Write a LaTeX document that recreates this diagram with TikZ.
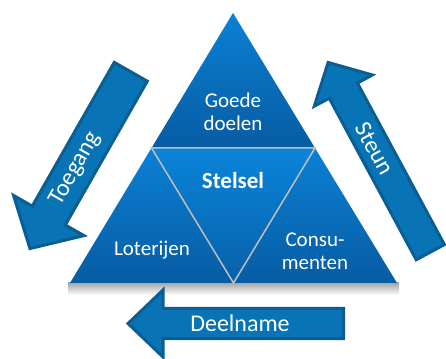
\documentclass[tikz,border=0pt]{standalone}
\usepackage{fontspec}
\setmainfont{Carlito}
\usetikzlibrary{calc}

\begin{document}
\begin{tikzpicture}[x=1pt,y=1pt,line join=miter]
  % Styles
  \tikzset{
    deel/.style={draw=lijngrijs, line width=1.5pt},
    pijl/.style={fill=pijlblauw, draw=pijlrand, line width=3pt},
    tekst/.style={text=white, align=center, font=\fontsize{21}{23}\selectfont},
    pijltekst/.style={text=white, font=\fontsize{24}{26}\selectfont}
  }

  % Colors
  \definecolor{pijlblauw}{RGB}{8,115,181}
  \definecolor{pijlrand}{RGB}{11,94,146}
  \definecolor{lijngrijs}{RGB}{192,192,192}
  \definecolor{blauwtop}{RGB}{11,128,212}
  \definecolor{blauwmidden}{RGB}{10,132,218}
  \definecolor{blauwdonker}{RGB}{7,92,163}

  \useasboundingbox (0,0) rectangle (446,358);

  % Corners of the triangle
  \coordinate (top) at (233,345);
  \coordinate (links) at (70,75);
  \coordinate (rechts) at (397,75);
  \coordinate (ml) at ($(top)!0.5!(links)$);
  \coordinate (mr) at ($(top)!0.5!(rechts)$);
  \coordinate (mb) at ($(links)!0.5!(rechts)$);

  % Shadow under the base
  \shade[top color=black!35, bottom color=white] (68,75) rectangle (399,63);

  % Four parts
  \shade[top color=blauwtop, bottom color=blauwdonker] (top) -- (ml) -- (mr) -- cycle;
  \shade[top color=blauwtop, bottom color=blauwdonker] (ml) -- (links) -- (mb) -- cycle;
  \shade[top color=blauwtop, bottom color=blauwdonker] (mr) -- (mb) -- (rechts) -- cycle;
  \shade[top color=blauwmidden, bottom color=blauwdonker!90!blauwmidden] (ml) -- (mr) -- (mb) -- cycle;
  \draw[deel] (ml) -- (mr) -- (mb) -- cycle;

  % Texts in the triangle
  \node[tekst] (goede) at (233,246) {Goede\\doelen};
  \node[tekst, font=\fontsize{23}{25}\selectfont\bfseries] (stelsel) at (233,177) {Stelsel};
  \node[tekst] (loterijen) at (152,108) {Loterijen};
  \node[tekst] (consumenten) at (315,107) {Consu-\\menten};

  % Arrow Toegang
  \begin{scope}[shift={(131.5,287.5)}, rotate=240.3]
    \draw[pijl] (1.5,-19) -- (167,-19) -- (167,-40.5) -- (205,0)
      -- (167,40.5) -- (167,19) -- (1.5,19) -- cycle;
    \node[pijltekst, rotate=60.3] (toegang) at (113,0) {Toegang};
  \end{scope}

  % Arrow Steun
  \begin{scope}[shift={(431,104.5)}, rotate=118.3]
    \draw[pijl] (1.5,-16) -- (185,-16) -- (185,-33) -- (217,0)
      -- (185,33) -- (185,16) -- (1.5,16) -- cycle;
    \node[pijltekst, rotate=-61.7] (steun) at (119,0) {Steun};
  \end{scope}

  % Arrow Deelname
  \begin{scope}[shift={(345,34.5)}, rotate=180]
    \draw[pijl] (1.5,-15) -- (182,-15) -- (182,-33.5) -- (217,0)
      -- (182,33.5) -- (182,15) -- (1.5,15) -- cycle;
    \node[pijltekst] (deelname) at (105,0) {Deelname};
  \end{scope}
\end{tikzpicture}
\end{document}
